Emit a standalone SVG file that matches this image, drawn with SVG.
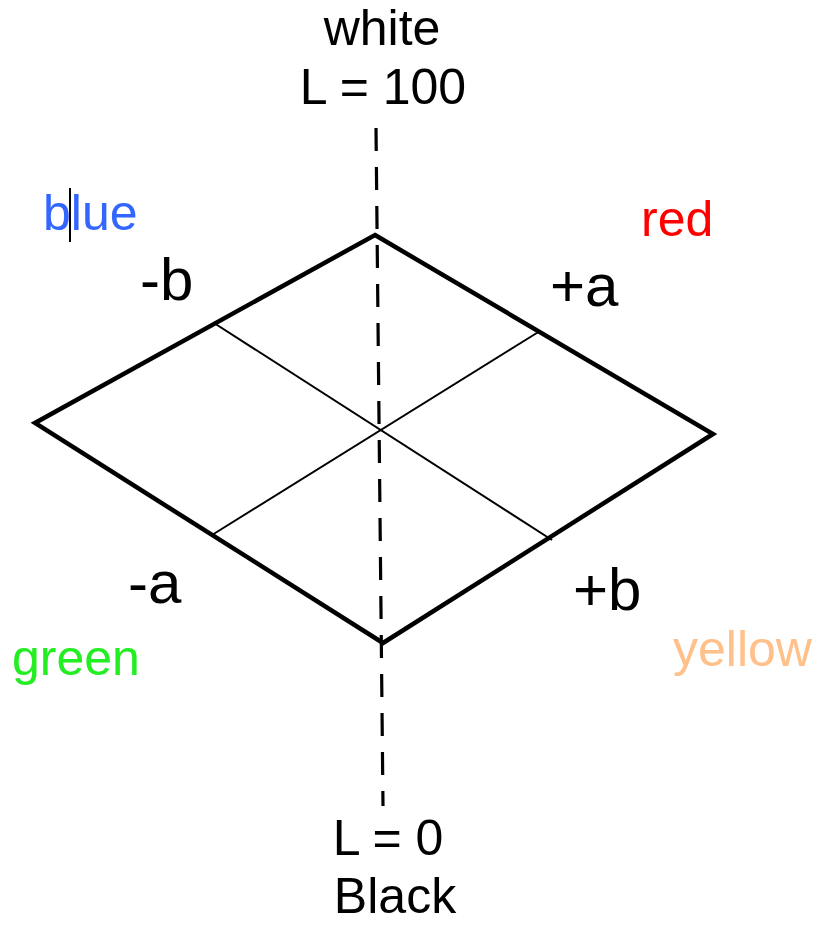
<svg xmlns="http://www.w3.org/2000/svg" width="819" height="926" viewBox="0 0 819 926">
<style>
text{font-family:"Liberation Sans",Arial,sans-serif;font-size:50px;fill:#000}
.ax{font-size:60px}
.edge{fill:none;stroke:#000;stroke-width:4.5;stroke-linejoin:miter}
.inner{stroke:#000;stroke-width:2}
.axis{stroke:#000;stroke-width:3.2;stroke-dasharray:23 16}
</style>
<rect width="819" height="926" fill="#fff"/>
<g id="connectors">
<line class="axis" x1="376" y1="128" x2="383" y2="806"/>
<line class="inner" x1="214" y1="323" x2="552" y2="540"/>
<line class="inner" x1="540" y1="331" x2="212" y2="535"/>
</g>
<g id="rhombus">
<polygon class="edge" points="375,235 713,434 383,643 35,423"/>
</g>
<g id="white-label">
<text x="382" y="45" text-anchor="middle">white</text>
<text x="383" y="104" text-anchor="middle">L = 100</text>
</g>
<g id="blue-label">
<text x="43" y="230" style="fill:#3366ff">blue</text>
<line x1="70" y1="188" x2="70" y2="242" stroke="#000" stroke-width="2"/>
</g>
<g id="red-label"><text x="641" y="236" style="fill:#ff0000">red</text></g>
<g id="green-label"><text x="12" y="675" style="fill:#22ee22">green</text></g>
<g id="yellow-label"><text x="673" y="666" style="fill:#ffc08a">yellow</text></g>
<g id="minus-b"><text class="ax" x="140" y="300">-b</text></g>
<g id="plus-a"><text class="ax" x="550" y="306">+a</text></g>
<g id="minus-a"><text class="ax" x="128" y="603">-a</text></g>
<g id="plus-b"><text class="ax" x="573" y="610">+b</text></g>
<g id="black-label">
<text x="388" y="855" text-anchor="middle">L = 0</text>
<text x="395" y="913" text-anchor="middle">Black</text>
</g>
</svg>
